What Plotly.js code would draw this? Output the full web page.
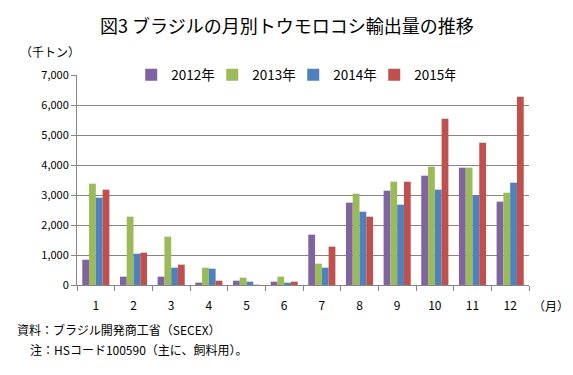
<!DOCTYPE html>
<html><head><meta charset="utf-8">
<script src="https://cdn.plot.ly/plotly-3.0.1.min.js"></script>
<style>body{margin:0;background:#fff}#c{width:573px;height:375px}</style>
</head><body><div id="c"></div>
<script>
const months = ['1','2','3','4','5','6','7','8','9','10','11','12'];
const seriesNames = ['2012年','2013年','2014年','2015年'];
const v2012 = [844, 278, 278, 78, 144, 111, 1678, 2744, 3144, 3644, 3911, 2778];
const v2013 = [3378, 2278, 1611, 578, 244, 278, 711, 3044, 3444, 3944, 3911, 3078];
const v2014 = [2911, 1044, 578, 544, 111, 78, 578, 2444, 2678, 3178, 3000, 3411];
const v2015 = [3178, 1078, 678, 144, 10, 111, 1278, 2278, 3444, 5544, 4744, 6278];
const colors = ['#8064A2','#9BBB59','#4F81BD','#C0504D'];
const vals = [v2012, v2013, v2014, v2015];
const font = "'Noto Sans CJK JP', 'Noto Sans', sans-serif";
const traces = vals.map((v,i)=>({type:'bar', x:months, y:v, name:seriesNames[i], marker:{color:colors[i]}}));
const layout = {
  width:573, height:375,
  margin:{l:77, r:44, t:75, b:90},
  paper_bgcolor:'#fff', plot_bgcolor:'#fff',
  font:{family:font, color:'#000', size:12},
  bargap:0.28, bargroupgap:0,
  showlegend:true,
  legend:{orientation:'h', x:0.12, y:1.0, xanchor:'left', yanchor:'middle', bgcolor:'#fff', font:{size:13.5, family:font}, entrywidth:36, entrywidthmode:'pixels', tracegroupgap:0},
  xaxis:{type:'category', tickson:'boundaries', ticks:'outside', ticklen:5, tickcolor:'#868686',
    showline:true, linecolor:'#868686', showgrid:false, ticklabelstandoff:10, tickfont:{size:12}},
  yaxis:{range:[0,7000], dtick:1000, tickformat:',', ticks:'outside', ticklen:5, tickcolor:'#868686',
    showline:true, linecolor:'#868686', gridcolor:'#868686', gridwidth:1, zeroline:false, tickfont:{size:11}, fixedrange:true},
  annotations:[
    {text:'図3 ブラジルの月別トウモロコシ輸出量の推移', xref:'paper', yref:'paper', x:0.465, y:1, yshift:50, xanchor:'center', yanchor:'middle', showarrow:false, font:{size:18}},
    {text:'（千トン）', xref:'paper', yref:'paper', x:0, xshift:-77+18, y:1, yshift:24, xanchor:'left', yanchor:'middle', showarrow:false, font:{size:12}},
    {text:'（月）', xref:'paper', yref:'paper', x:1, xshift:2, y:0, yshift:-20, xanchor:'left', yanchor:'middle', showarrow:false, font:{size:12}},
    {text:'資料：ブラジル開発商工省（SECEX）', xref:'paper', yref:'paper', x:0, xshift:-77+15, y:0, yshift:-44, xanchor:'left', yanchor:'middle', showarrow:false, font:{size:12}},
    {text:'注：HSコード100590（主に、飼料用）。', xref:'paper', yref:'paper', x:0, xshift:-77+28, y:0, yshift:-64, xanchor:'left', yanchor:'middle', showarrow:false, font:{size:12}}
  ]
};
Plotly.newPlot('c', traces, layout, {displayModeBar:false, staticPlot:true});
</script></body></html>
